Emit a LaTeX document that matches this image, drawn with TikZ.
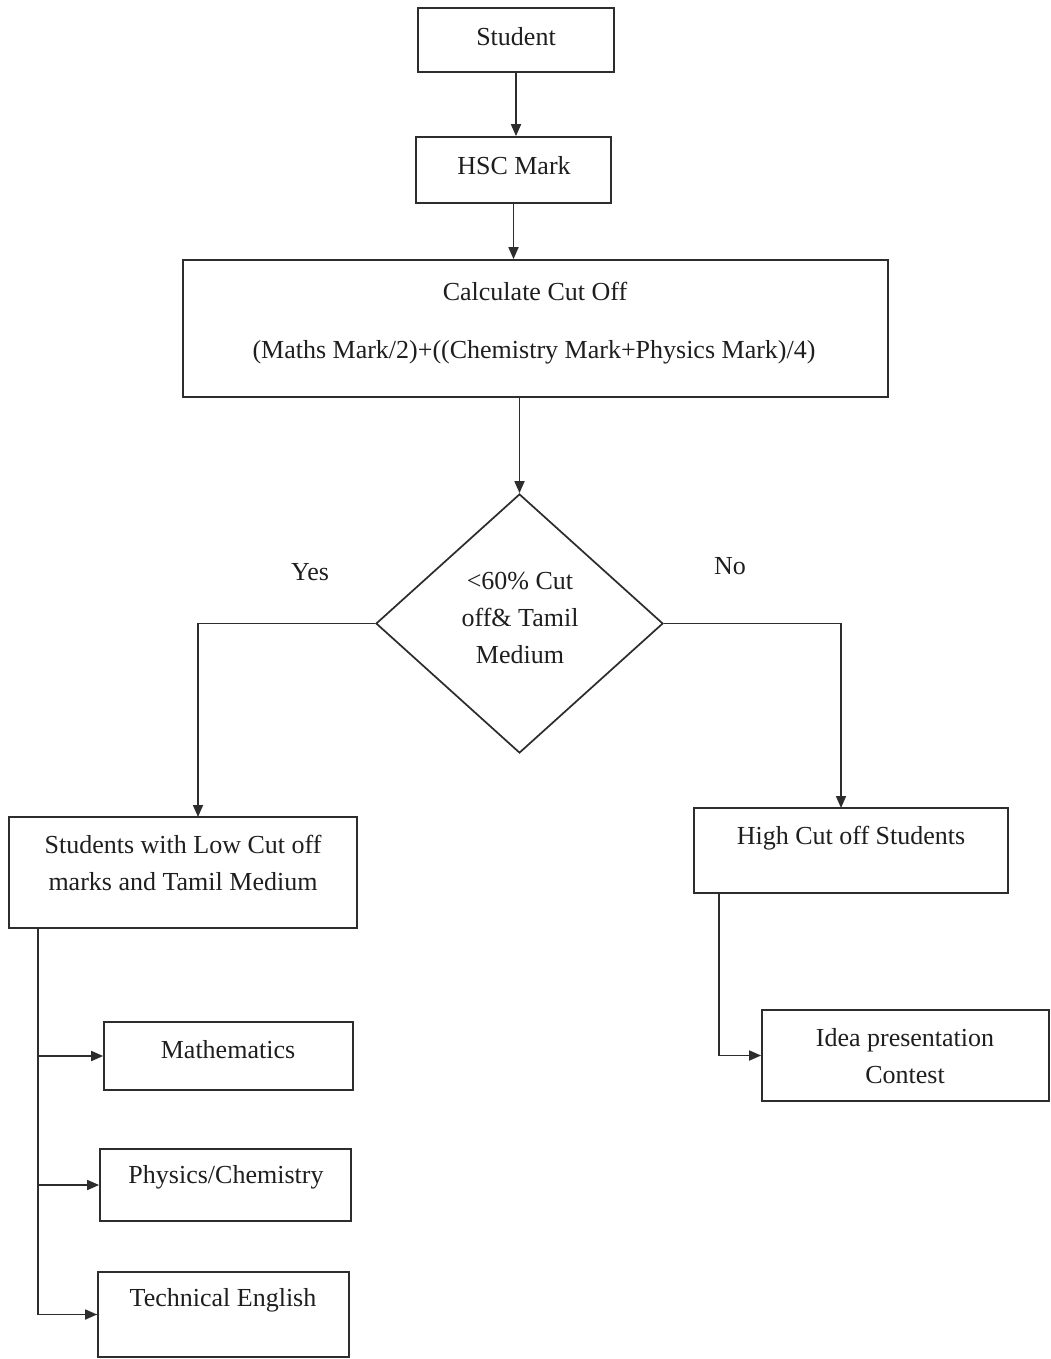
\documentclass[tikz,border=0pt]{standalone}
\usepackage{fontspec}
\setmainfont{Liberation Serif}
\usetikzlibrary{arrows.meta,shapes.geometric}
\definecolor{inkline}{RGB}{45,45,45}
\definecolor{inktext}{RGB}{30,30,30}
\begin{document}
\begin{tikzpicture}[x=0.75pt,y=0.75pt,yscale=-1,xscale=1,
  box/.style={draw=inkline,line width=1.3pt,rectangle,inner sep=0pt},
  decide/.style={draw=inkline,line width=1.3pt,diamond,inner sep=0pt},
  txt/.style={inner sep=0.75pt,align=center,color=inktext,font=\fontsize{19.5}{27.75}\selectfont},
  arr/.style={draw=inkline,line width=1.3pt,-{Triangle[length=9pt,width=7.5pt]}},
  link/.style={draw=inkline,line width=1.3pt}]
\useasboundingbox (0,0) rectangle (1050,1359);

%Shape: Rectangle
\node [box,minimum width=147pt,minimum height=48pt] (student) at (516,40) {};
%Shape: Rectangle
\node [box,minimum width=146.25pt,minimum height=49.5pt] (hsc) at (513.5,170) {};
%Shape: Rectangle
\node [box,minimum width=528.75pt,minimum height=102.75pt] (calc) at (535.5,328.5) {};
%Shape: Diamond
\node [decide,minimum width=215.25pt,minimum height=194.25pt] (cutoff) at (519.5,623.5) {};
%Shape: Rectangle
\node [box,minimum width=261pt,minimum height=83.25pt] (lowbox) at (183,872.5) {};
%Shape: Rectangle
\node [box,minimum width=235.5pt,minimum height=63.75pt] (highbox) at (851,850.5) {};
%Shape: Rectangle
\node [box,minimum width=215.25pt,minimum height=68.25pt] (idea) at (905.5,1055.5) {};
%Shape: Rectangle
\node [box,minimum width=186.75pt,minimum height=51pt] (maths) at (228.5,1056) {};
%Shape: Rectangle
\node [box,minimum width=188.25pt,minimum height=54pt] (phys) at (225.5,1185) {};
%Shape: Rectangle
\node [box,minimum width=188.25pt,minimum height=63.75pt] (techeng) at (223.5,1314.5) {};

\coordinate (lowin) at (198,817);
\coordinate (highin) at (841,808);
\coordinate (lowtrunk) at (38,928);
\coordinate (hightrunk) at (719,893);

%Straight Lines
\draw [arr] (student.south) -- (student.south |- hsc.north);
\draw [arr] (hsc.south) -- (hsc.south |- calc.north);
\draw [arr] (cutoff.north |- calc.south) -- (cutoff.north);
\draw [arr] (cutoff.west) -| (lowin);
\draw [arr] (cutoff.east) -| (highin);
\draw [link] (lowtrunk) |- (techeng.west);
\draw [arr] (lowtrunk |- maths.west) -- (maths.west);
\draw [arr] (lowtrunk |- phys.west) -- (phys.west);
\draw [arr] (lowtrunk |- techeng.west) -- (techeng.west);
\draw [arr] (hightrunk) |- (idea.west);

% Text Node
\node [txt] (student-t) at (516,37) {Student};
% Text Node
\node [txt] (hsc-t) at (514,166) {HSC Mark};
% Text Node
\node [txt] (calc-t) at (535,291) {Calculate Cut Off};
% Text Node
\node [txt] (formula-t) at (534,352) {(Maths Mark/2)+((Chemistry Mark+Physics Mark)/4)};
% Text Node
\node [txt] (cutoff-t) at (520,618) {<60\% Cut\\off\& Tamil\\Medium};
% Text Node
\node [txt] (yes-t) at (310,572) {Yes};
% Text Node
\node [txt] (no-t) at (730,566) {No};
% Text Node
\node [txt] (lowbox-t) at (183,863) {Students with Low Cut off\\marks and Tamil Medium};
% Text Node
\node [txt] (highbox-t) at (851,838) {High Cut off Students};
% Text Node
\node [txt] (idea-t) at (905,1056) {Idea presentation\\Contest};
% Text Node
\node [txt] (maths-t) at (228,1050) {Mathematics};
% Text Node
\node [txt] (phys-t) at (226,1177) {Physics/Chemistry};
% Text Node
\node [txt] (techeng-t) at (223,1300) {Technical English};

\end{tikzpicture}
\end{document}
